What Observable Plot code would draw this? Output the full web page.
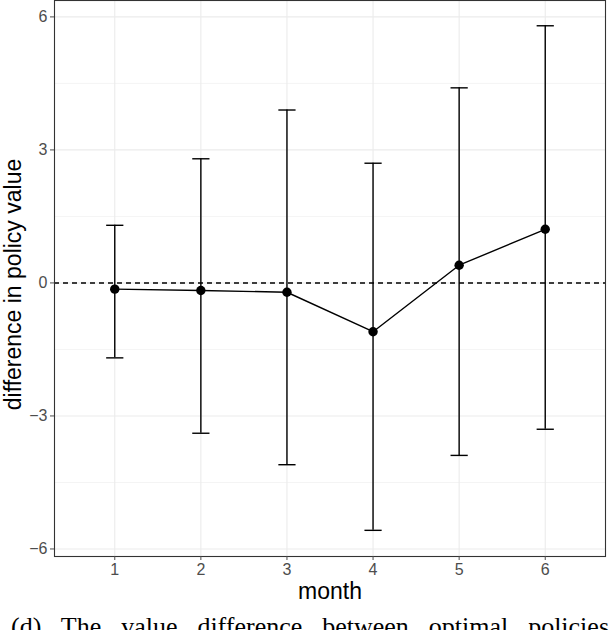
<!DOCTYPE html>
<html>
<head>
<meta charset="utf-8">
<script src="https://cdn.jsdelivr.net/npm/d3@7"></script>
<script src="https://cdn.jsdelivr.net/npm/@observablehq/plot@0.6"></script>
<style>
  html, body { margin: 0; padding: 0; background: #fff; overflow: hidden; }
  #wrap { position: relative; width: 612px; height: 630px; overflow: hidden; }
  #caption {
    position: absolute; left: 11px; top: 612px; width: 598px;
    font-family: "Liberation Serif", "DejaVu Serif", serif; font-size: 26px;
    text-align: justify; text-align-last: justify; white-space: nowrap; color: #000;
  }
</style>
</head>
<body>
<div id="wrap">
<div id="chart"></div>
<div id="caption">(d) The value difference between optimal policies</div>
</div>
<script>
const months = [1, 2, 3, 4, 5, 6];
const estimate = [-0.14, -0.17, -0.21, -1.10, 0.40, 1.21];
const lower = [-1.69, -3.39, -4.10, -5.58, -3.89, -3.30];
const upper = [1.30, 2.80, 3.90, 2.70, 4.40, 5.80];
const yTicks = [-6, -3, 0, 3, 6];
const yMinor = [-4.5, -1.5, 1.5, 4.5];
const xTicks = [1, 2, 3, 4, 5, 6];

const data = months.map((m, i) => ({month: m, est: estimate[i], lo: lower[i], hi: upper[i]}));
const capHalf = 0.1;

const chart = Plot.plot({
  width: 612,
  height: 605,
  marginLeft: 54,
  marginRight: 7,
  marginTop: 0,
  marginBottom: 49,
  style: {fontFamily: "'Liberation Sans', Arial, sans-serif", background: "#fff"},
  x: {domain: [0.3, 6.7]},
  y: {domain: [-6.17, 6.37]},
  marks: [
    Plot.gridY(yMinor, {stroke: "#ebebeb", strokeOpacity: 1, strokeWidth: 0.55}),
    Plot.gridY(yTicks, {stroke: "#ebebeb", strokeOpacity: 1, strokeWidth: 1.1}),
    Plot.gridX(xTicks, {stroke: "#ebebeb", strokeOpacity: 1, strokeWidth: 1.1}),
    Plot.ruleY([0], {stroke: "#000", strokeWidth: 1.4, strokeDasharray: "5,4"}),
    Plot.ruleX(data, {x: "month", y1: "lo", y2: "hi", stroke: "#000", strokeWidth: 1.4}),
    Plot.link(data, {x1: d => d.month - capHalf, x2: d => d.month + capHalf, y1: "hi", y2: "hi", stroke: "#000", strokeWidth: 1.4}),
    Plot.link(data, {x1: d => d.month - capHalf, x2: d => d.month + capHalf, y1: "lo", y2: "lo", stroke: "#000", strokeWidth: 1.4}),
    Plot.line(data, {x: "month", y: "est", stroke: "#000", strokeWidth: 1.4}),
    Plot.dot(data, {x: "month", y: "est", r: 4.7, fill: "#000", stroke: "none"}),
    Plot.frame({stroke: "#333", strokeWidth: 1.1}),
    Plot.axisY(yTicks, {tickSize: 4, tickPadding: 3, fontSize: 16, color: "#4d4d4d", label: null, tickFormat: d => d < 0 ? "\u2212" + Math.abs(d) : String(d)}),
    Plot.axisX(xTicks, {tickSize: 4, tickPadding: 3, fontSize: 16, color: "#4d4d4d", label: null}),
    Plot.text(["difference in policy value"], {frameAnchor: "left", dx: -41, dy: 6, rotate: -90, fontSize: 23, fill: "#000", textAnchor: "middle"}),
    Plot.text(["month"], {frameAnchor: "bottom", dy: 35, fontSize: 23, fill: "#000", lineAnchor: "middle"})
  ]
});
document.getElementById("chart").appendChild(chart);
</script>
</body>
</html>
